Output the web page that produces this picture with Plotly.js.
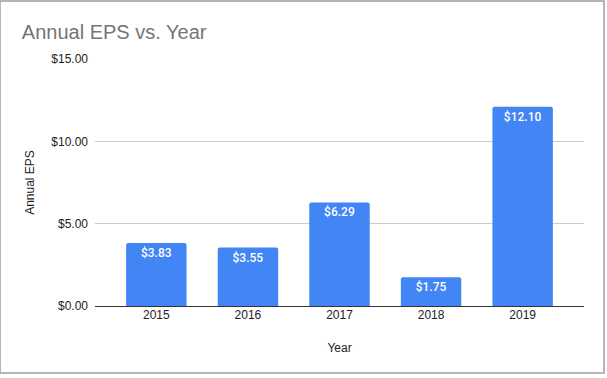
<!DOCTYPE html>
<html><head><meta charset="utf-8">
<script src="https://cdn.plot.ly/plotly-3.0.1.min.js"></script>
<style>html,body{margin:0;padding:0;background:#fff}#c{width:607px;height:378px}</style>
</head><body><div id="c"></div>
<script>
const years = ['2015','2016','2017','2018','2019'];
const eps = [3.83, 3.55, 6.29, 1.75, 12.10];
const yTicks = [0, 5, 10, 15];

const font = 'Arial, "Liberation Sans", sans-serif';
Plotly.newPlot('c', [{
  type: 'bar', x: years, y: eps,
  marker: {color: '#4285F4', cornerradius: 2},
  width: 0.66,
  texttemplate: '$%{y:.2f}', textposition: 'inside', insidetextanchor: 'end',
  constraintext: 'none',
  textfont: {color: '#ffffff', size: 12, family: 'Roboto, Arial, sans-serif', weight: 500},
  hoverinfo: 'none'
}], {
  width: 607, height: 378,
  margin: {l: 95, r: 23, t: 59, b: 72},
  paper_bgcolor: '#fff', plot_bgcolor: '#fff',
  font: {family: font, size: 12, color: '#222'},
  title: {text: 'Annual EPS vs. Year', x: 0.036, xanchor: 'left', y: 0.915, yanchor: 'middle',
          font: {size: 20, color: '#757575', family: font}},
  xaxis: {type: 'category', range: [-0.67, 4.67], showgrid: false, ticks: '', showline: false,
          title: {text: 'Year', standoff: 22, font: {size: 12, color: '#222'}},
          tickfont: {size: 12, color: '#222'}},
  yaxis: {range: [0, 15], tickvals: yTicks, tickformat: '$.2f',
          gridcolor: '#cccccc', zeroline: true, zerolinecolor: '#333', zerolinewidth: 1,
          ticks: '', ticklabelstandoff: 6,
          title: {text: 'Annual EPS', standoff: 14, font: {size: 12, color: '#222'}},
          tickfont: {size: 12, color: '#222'}},
  shapes: [
    {type: 'rect', xref: 'paper', yref: 'paper', x0: -95/489, x1: (604-95)/489, y0: -(373-306)/247, y1: (306-1)/247,
     line: {color: '#9e9e9e', width: 1.5}, fillcolor: 'rgba(0,0,0,0)', layer: 'above'}
  ],
  showlegend: false
}, {displayModeBar: false, staticPlot: true});
</script></body></html>
